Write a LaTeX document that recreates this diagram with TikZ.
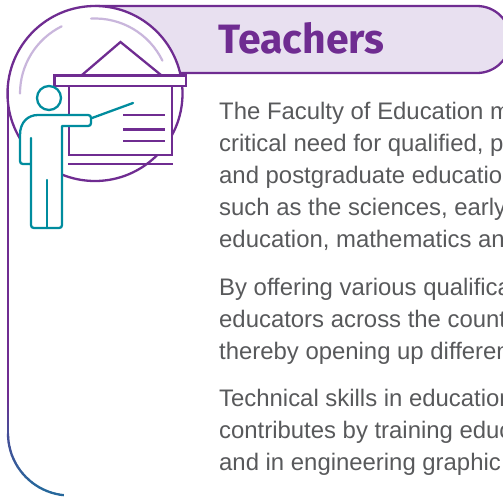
\documentclass[tikz,border=0pt]{standalone}
\usepackage{fontspec}
\setmainfont{Liberation Sans}
\newfontfamily\titlefont{Fira Sans}
\definecolor{purp}{HTML}{6F2C91}
\definecolor{lilac}{HTML}{E8E0F0}
\definecolor{pale}{HTML}{C9B6DC}
\definecolor{teal1}{HTML}{008C9E}
\definecolor{blue1}{HTML}{26679B}
\definecolor{greytext}{HTML}{58595B}
\tikzset{
  outline/.style={draw=purp,line width=2.3pt},
  iconline/.style={draw=purp,line width=2.3pt,line join=miter},
  personline/.style={draw=teal1,line width=2.3pt,line join=round,line cap=round},
  body/.style={anchor=base west,text=greytext,font=\fontsize{23.9}{23.9}\selectfont,inner sep=0pt}
}
\begin{document}
\begin{tikzpicture}[x=1pt,y=-1pt]
\useasboundingbox (0,0) rectangle (503,496);
\clip (0,0) rectangle (503,496);
\coordinate (c) at (95,93.5);
% pill
\path[fill=lilac] (95,6) -- (477,6) arc[start angle=-90,end angle=90,radius=33.5] -- (95,73) -- cycle;
\draw[outline] (95,6) -- (477,6) arc[start angle=-90,end angle=90,radius=33.5] -- (170,73);
\fill[white] (c) circle[radius=87.5];
\draw[outline] (c) circle[radius=87.5];
% pale arcs
\draw[draw=pale,line width=2.2pt,line cap=round] (c) ++(180:75) arc[start angle=180,end angle=243.6,radius=75];
\draw[draw=pale,line width=2.2pt,line cap=round] (c) ++(267:75) arc[start angle=267,end angle=334,radius=75];
% outer frame left
\draw[outline] (8,90) -- (8,395);
\foreach \i in {0,...,38}{
  \pgfmathsetmacro\ya{395+\i}
  \pgfmathsetmacro\yb{396.3+\i}
  \pgfmathsetmacro\m{\i*1.5}
  \draw[draw=blue1!\m!purp,line width=2.3pt] (8,\ya) -- (8,\yb);
}
\foreach \i in {0,...,20}{
  \pgfmathsetmacro\sa{180-\i*4}
  \pgfmathsetmacro\sb{180-\i*4-4.3}
  \pgfmathsetmacro\m{min(100,57+\i*3)}
  \draw[draw=blue1!\m!purp,line width=2.3pt] (70,433.5) ++(\sa:62) arc[start angle=\sa,end angle=\sb,radius=62];
}
% house
\draw[iconline] (82,75) -- (120.5,42) -- (161,75);
\draw[iconline,fill=white] (54.5,75.5) rectangle (186,86);
\draw[iconline,fill=white] (69,86) rectangle (172,155);
\draw[iconline] (123,115) -- (165,115);
\draw[iconline] (123,129.5) -- (165,129.5);
\draw[iconline] (123,141) -- (165,141);
\draw[iconline] (68,164) -- (173,164);
% person
\fill[white] (20,135) .. controls (20,122) and (28,115) .. (38,115) -- (90,115) -- (91,125) -- (62,126) -- (62,228) -- (31,228) -- (31,163) -- (20,163) -- cycle;
\fill[white] (49,98) circle[radius=12];
\draw[personline] (49,98) circle[radius=12];
\draw[personline] (31,138) -- (31,225) .. controls (31,227) and (32,228) .. (34,228) -- (59,228) .. controls (61,228) and (62,227) .. (62,225) -- (62,126) -- (88,126) .. controls (90,126) and (91,125) .. (91,123) -- (91,118) .. controls (91,116) and (90,115) .. (88,115) -- (38,115) .. controls (28,115) and (20,122) .. (20,135) -- (20,161) .. controls (20,163) and (21,164) .. (23,164) -- (31,164);
\draw[personline] (47,180) -- (47,228);
\draw[personline] (92,118) -- (133,103);
% title
\node[anchor=base west,inner sep=0pt,text=purp,font=\titlefont\bfseries\fontsize{41}{41}\selectfont] (title) at (218,53.5) {Teachers};
% text
\node[body] (l1) at (219,119) {The Faculty of Education m};
\node[body] (l2) at (219,151) {critical need for qualified, p};
\node[body] (l3) at (219,183) {and postgraduate educatio};
\node[body] (l4) at (219,215) {such as the sciences, early};
\node[body] (l5) at (219,247) {education, mathematics an};
\node[body] (l6) at (219,295) {By offering various qualifica};
\node[body] (l7) at (219,327) {educators across the count};
\node[body] (l8) at (219,359) {thereby opening up differen};
\node[body] (l9) at (219,406) {Technical skills in education};
\node[body] (l10) at (219,438) {contributes by training educ};
\node[body] (l11) at (219,470) {and in engineering graphic};
\end{tikzpicture}
\end{document}
